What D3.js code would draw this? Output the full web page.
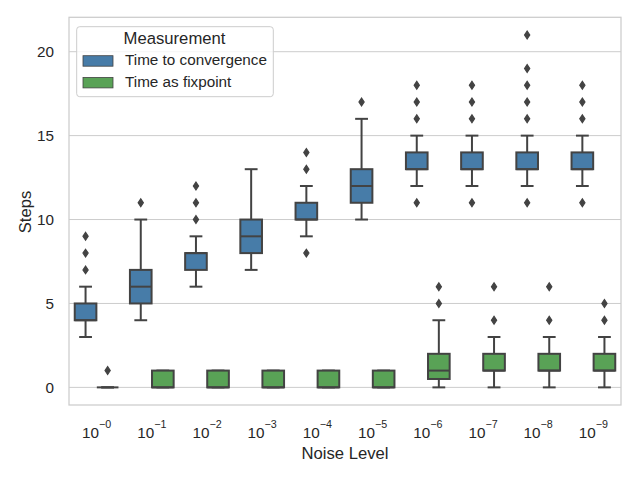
<!DOCTYPE html>
<html>
<head>
<meta charset="utf-8">
<script src="https://cdn.jsdelivr.net/npm/d3@7"></script>
<style>
  html, body { margin: 0; padding: 0; background: #fff; }
  text { font-family: "Liberation Sans", Arial, sans-serif; fill: #262626; }
</style>
</head>
<body>
<svg id="chart" width="640" height="480"></svg>
<script>
// ---- data ----
const exponents = ["0", "1", "2", "3", "4", "5", "6", "7", "8", "9"];
const seriesNames = ["Time to convergence", "Time as fixpoint"];
const yTicks = [0, 5, 10, 15, 20];

// Time to convergence
const convQ1     = [4, 5, 7, 8, 10, 11, 13, 13, 13, 13];
const convMedian = [4, 6, 8, 9, 10, 12, 13, 13, 13, 13];
const convQ3     = [5, 7, 8, 10, 11, 13, 14, 14, 14, 14];
const convLow    = [3, 4, 6, 7, 9, 10, 12, 12, 12, 12];
const convHigh   = [6, 10, 9, 13, 12, 16, 15, 15, 15, 15];
const convOut    = [[7, 8, 9], [11], [10, 11, 12], [], [8, 13, 14], [17],
                    [11, 16, 17, 18], [11, 16, 17, 18], [11, 16, 17, 18, 19, 21], [11, 16, 17, 18]];

// Time as fixpoint
const fixQ1      = [0, 0, 0, 0, 0, 0, 0.5, 1, 1, 1];
const fixMedian  = [0, 0, 0, 0, 0, 0, 1, 1, 1, 1];
const fixQ3      = [0, 1, 1, 1, 1, 1, 2, 2, 2, 2];
const fixLow     = [0, 0, 0, 0, 0, 0, 0, 0, 0, 0];
const fixHigh    = [0, 1, 1, 1, 1, 1, 4, 3, 3, 3];
const fixOut     = [[1], [], [], [], [], [], [5, 6], [4, 6], [4, 6], [4, 5]];

const colors = ["#477ca8", "#59a256"];
const lineColor = "#434343";

// ---- build table ----
const boxes = [];
exponents.forEach((e, i) => {
  boxes.push({cat: e, s: 0, q1: convQ1[i], med: convMedian[i], q3: convQ3[i], lo: convLow[i], hi: convHigh[i], out: convOut[i]});
  boxes.push({cat: e, s: 1, q1: fixQ1[i], med: fixMedian[i], q3: fixQ3[i], lo: fixLow[i], hi: fixHigh[i], out: fixOut[i]});
});

const svg = d3.select("#chart");
const L = 69, R = 621, T = 17.3, B = 405;

const x = d3.scaleBand().domain(exponents).range([L, R]).padding(0);
const hue = d3.scaleBand().domain([0, 1]).range([0, x.bandwidth() * 0.8]).padding(0);
const y = d3.scaleLinear().domain([-1.05, 22.05]).range([B, T]);

svg.append("rect").attr("width", 640).attr("height", 480).attr("fill", "#fff");

// grid
svg.append("g").selectAll("line").data(yTicks).join("line")
  .attr("x1", L).attr("x2", R)
  .attr("y1", d => y(d)).attr("y2", d => y(d))
  .attr("stroke", "#cccccc").attr("stroke-width", 1);

// y tick labels
svg.append("g").selectAll("text").data(yTicks).join("text")
  .attr("x", 54).attr("y", d => y(d)).attr("dy", "0.36em")
  .attr("text-anchor", "end").attr("font-size", "15.28px")
  .text(d => d);

// x tick labels
const xt = svg.append("g").selectAll("text").data(exponents).join("text")
  .attr("x", d => x(d) + x.bandwidth() / 2).attr("y", 438.3)
  .attr("text-anchor", "middle").attr("font-size", "15.28px");
xt.append("tspan").text("10");
xt.append("tspan").attr("dy", -10).attr("font-size", "10.7px").text(d => "\u2212" + d);

// boxes
const bw = hue.bandwidth() * 0.98;
const cx = d => x(d.cat) + x.bandwidth() * 0.1 + hue(d.s) + hue.bandwidth() / 2;
const gBox = svg.append("g");
const bg = gBox.selectAll("g").data(boxes).join("g");

// whiskers
bg.append("line").attr("x1", cx).attr("x2", cx)
  .attr("y1", d => y(d.q1)).attr("y2", d => y(d.lo))
  .attr("stroke", lineColor).attr("stroke-width", 2);
bg.append("line").attr("x1", cx).attr("x2", cx)
  .attr("y1", d => y(d.q3)).attr("y2", d => y(d.hi))
  .attr("stroke", lineColor).attr("stroke-width", 2);
// caps
[["lo"], ["hi"]].forEach(([k]) => {
  bg.append("line")
    .attr("x1", d => cx(d) - bw / 4).attr("x2", d => cx(d) + bw / 4)
    .attr("y1", d => y(d[k])).attr("y2", d => y(d[k]))
    .attr("stroke", lineColor).attr("stroke-width", 2).attr("stroke-linecap", "square");
});
// box
bg.append("rect")
  .attr("x", d => cx(d) - bw / 2).attr("width", bw)
  .attr("y", d => y(d.q3)).attr("height", d => y(d.q1) - y(d.q3))
  .attr("fill", d => colors[d.s]).attr("stroke", lineColor).attr("stroke-width", 2);
// median
bg.append("line")
  .attr("x1", d => cx(d) - bw / 2).attr("x2", d => cx(d) + bw / 2)
  .attr("y1", d => y(d.med)).attr("y2", d => y(d.med))
  .attr("stroke", lineColor).attr("stroke-width", 2);
// fliers (thin diamonds)
bg.each(function (d) {
  d3.select(this).selectAll("path.fl").data(d.out).join("path")
    .attr("class", "fl")
    .attr("transform", v => `translate(${cx(d)},${y(v)})`)
    .attr("d", "M0,-3.9L2.6,0L0,3.9L-2.6,0Z")
    .attr("fill", lineColor).attr("stroke", lineColor).attr("stroke-width", 1.2);
});

// spines
svg.append("rect").attr("x", L).attr("y", T).attr("width", R - L).attr("height", B - T)
  .attr("fill", "none").attr("stroke", "#cccccc").attr("stroke-width", 1.25);

// axis labels
svg.append("text").attr("x", (L + R) / 2).attr("y", 459)
  .attr("text-anchor", "middle").attr("font-size", "16.67px").text("Noise Level");
svg.append("text").attr("transform", "translate(31,212) rotate(-90)")
  .attr("text-anchor", "middle").attr("font-size", "16.67px").text("Steps");

// legend
const lg = svg.append("g");
lg.append("rect").attr("x", 76.7).attr("y", 26.7).attr("width", 196.6).attr("height", 70)
  .attr("rx", 3).attr("fill", "#fff").attr("fill-opacity", 0.8)
  .attr("stroke", "#cccccc").attr("stroke-width", 1);
lg.append("text").attr("x", 174.5).attr("y", 44.3).attr("text-anchor", "middle")
  .attr("font-size", "16.67px").text("Measurement");
const li = lg.selectAll("g.it").data(seriesNames).join("g").attr("class", "it")
  .attr("transform", (d, i) => `translate(0,${i * 21.7})`);
li.append("rect").attr("x", 83).attr("y", 55.7).attr("width", 30).attr("height", 10.5)
  .attr("fill", (d, i) => colors[i]).attr("stroke", lineColor).attr("stroke-width", 0.8);
li.append("text").attr("x", 125).attr("y", 65.3).attr("font-size", "15.28px").text(d => d);
</script>
</body>
</html>
